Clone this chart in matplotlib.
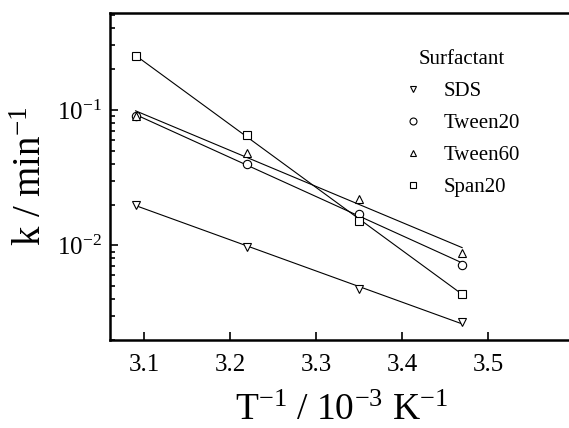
import numpy as np
import matplotlib.pyplot as plt
from matplotlib.lines import Line2D

plt.rcParams['font.family'] = ['Liberation Serif', 'DejaVu Serif']
plt.rcParams['mathtext.fontset'] = 'custom'
plt.rcParams['mathtext.rm'] = 'Liberation Serif'
plt.rcParams['mathtext.it'] = 'Liberation Serif:italic'
plt.rcParams['mathtext.default'] = 'rm'

inv_t = [3.09, 3.22, 3.35, 3.47]
names = ["SDS", "Tween20", "Tween60", "Span20"]
k_sds = [0.020, 0.0098, 0.0048, 0.0027]
k_tw20 = [0.090, 0.040, 0.017, 0.0072]
k_tw60 = [0.091, 0.048, 0.022, 0.0088]
k_span = [0.25, 0.065, 0.0152, 0.0044]
markers = ["v", "o", "^", "s"]

fig = plt.figure(figsize=(5.69, 4.28), dpi=100)
ax = fig.add_axes([0.193, 0.2056, 0.8155, 0.764])

handles = []
for name, k, m in zip(names, [k_sds, k_tw20, k_tw60, k_span], markers):
  x = np.array(inv_t)
  # linear fit of log k against 1/T
  p = np.polyfit(x, np.log10(k), 1)
  xf = np.array([x[0], x[-1]])
  ax.plot(xf, 10 ** np.polyval(p, xf), color="black", lw=0.8)
  ax.plot(x, k, linestyle="none", marker=m, ms=6, mfc="white", mec="black", mew=0.8)
  handles.append(Line2D([], [], linestyle="none", marker=m, ms=5, mfc="white",
                        mec="black", mew=0.8, label=name))

ax.set_yscale("log")
ax.set_xlim(3.06, 3.6)
ax.set_ylim(0.002, 0.52)
ax.set_xticks([3.1, 3.2, 3.3, 3.4, 3.5])
ax.tick_params(direction="in", which="both", labelsize=18, width=1.2)
ax.tick_params(which="major", length=6)
ax.tick_params(which="minor", length=3.5)
ax.tick_params(axis="x", pad=10)
ax.tick_params(axis="y", pad=6)
for s in ax.spines.values():
  s.set_linewidth(1.8)

ax.set_xlabel(r"T$^{-1}$ / 10$^{-3}$ K$^{-1}$", fontsize=27, labelpad=13)
ax.set_ylabel(r"k / min$^{-1}$", fontsize=28, labelpad=5)

leg = ax.legend(handles=handles, title="Surfactant", loc="upper left",
                bbox_to_anchor=(0.59, 0.945), frameon=False, fontsize=15,
                title_fontsize=15, handlelength=1.0, handletextpad=1.0,
                labelspacing=0.6)

fig.savefig("out.png", dpi=100)
